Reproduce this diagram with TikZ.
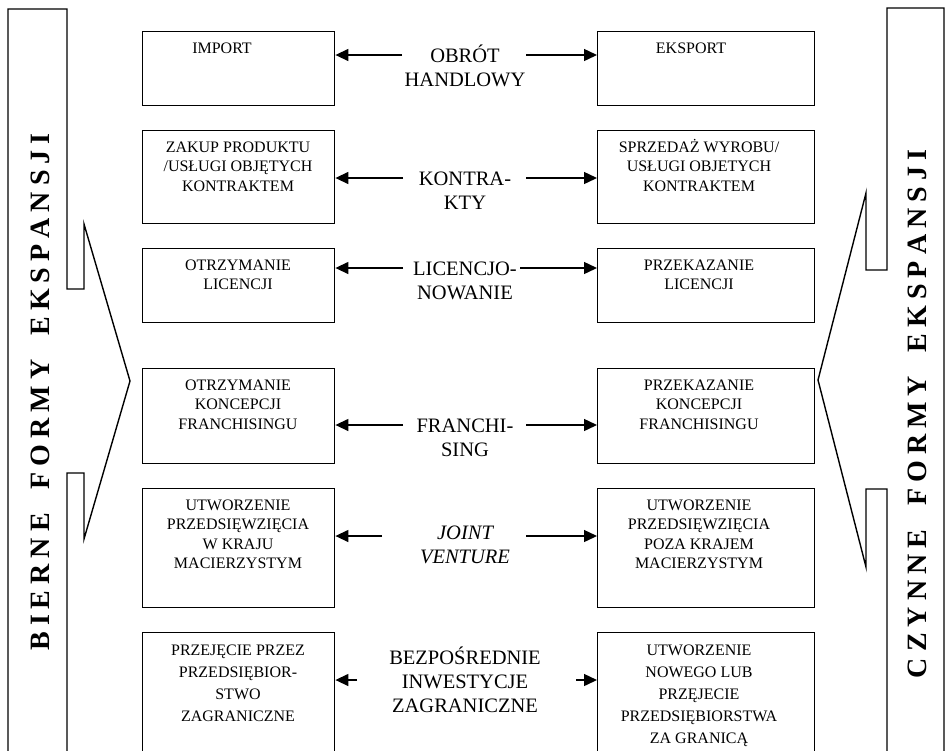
\documentclass[tikz,border=0pt]{standalone}
\usepackage{fontspec}
\setmainfont{Liberation Serif}
\newfontfamily\vfont{Liberation Serif Bold}
\usetikzlibrary{arrows.meta}
\newcommand\lsp{\kern 6pt}
\newcommand\wsp{\kern 24pt}
\begin{document}
\begin{tikzpicture}[x=1pt,y=-1pt,
  box/.style={draw, line width=1.4pt, anchor=north west, inner sep=0pt},
  lbox/.style={box, minimum width=192pt},
  rbox/.style={box, minimum width=217pt},
  btxt/.style={anchor=north, inner sep=0pt, align=center, font=\fontsize{16}{19.5}\selectfont},
  ctxt/.style={anchor=north, inner sep=0pt, align=center, font=\fontsize{20.5}{24}\selectfont},
  arr/.style={line width=1.4pt, -{Triangle[length=13pt,width=12pt]}},
  bar/.style={line width=1.4pt},
  vtxt/.style={rotate=90, inner sep=0pt, font=\vfont\fontsize{28}{32}\selectfont}
]
\useasboundingbox (0,0) rectangle (952,750);
\clip (0,0) rectangle (952,750);
% side arrows
\draw[bar] (8,800) -- (8,9) -- (67,9) -- (67,289) -- (84,289) -- (84,224) -- (130,381) -- (84,539) -- (84,473) -- (67,473) -- (67,800);
\draw[bar] (944,800) -- (944,8) -- (887,8) -- (887,270) -- (866,270) -- (866,193) -- (818,380) -- (866,567) -- (866,489) -- (887,489) -- (887,800);
\node[vtxt] (lt) at (40,392) {B\lsp I\lsp E\lsp R\lsp N\lsp E\wsp F\lsp O\lsp R\lsp M\lsp Y\wsp E\lsp K\lsp S\lsp P\lsp A\lsp N\lsp S\lsp J\lsp I};
\node[vtxt] (rt) at (917,414) {C\lsp Z\lsp Y\lsp N\lsp N\lsp E\wsp F\lsp O\lsp R\lsp M\lsp Y\wsp E\lsp K\lsp S\lsp P\lsp A\lsp N\lsp S\lsp J\lsp I};
% boxes
\node[lbox, minimum height=74pt] (l1) at (142,31) {};
\node[rbox, minimum height=74pt] (r1) at (597,31) {};
\node[lbox, minimum height=93pt] (l2) at (142,130) {};
\node[rbox, minimum height=93pt] (r2) at (597,130) {};
\node[lbox, minimum height=74pt] (l3) at (142,248) {};
\node[rbox, minimum height=74pt] (r3) at (597,248) {};
\node[lbox, minimum height=95pt] (l4) at (142,368) {};
\node[rbox, minimum height=95pt] (r4) at (597,368) {};
\node[lbox, minimum height=119pt] (l5) at (142,488) {};
\node[rbox, minimum height=119pt] (r5) at (597,488) {};
\node[lbox, minimum height=160pt] (l6) at (142,632) {};
\node[rbox, minimum height=160pt] (r6) at (597,632) {};
% box texts
\node[btxt] (tl1) at (222,39.6) {\strut IMPORT};
\node[btxt] (tr1) at (691,39.6) {\strut EKSPORT};
\node[btxt] (tl2) at (238,138.6) {\strut ZAKUP PRODUKTU\\/USŁUGI OBJĘTYCH\\KONTRAKTEM};
\node[btxt] (tr2) at (699,138.6) {\strut SPRZEDAŻ WYROBU/\\USŁUGI OBJETYCH\\KONTRAKTEM};
\node[btxt] (tl3) at (238,256.6) {\strut OTRZYMANIE\\LICENCJI};
\node[btxt] (tr3) at (699,256.6) {\strut PRZEKAZANIE\\LICENCJI};
\node[btxt] (tl4) at (238,376.6) {\strut OTRZYMANIE\\KONCEPCJI\\FRANCHISINGU};
\node[btxt] (tr4) at (699,376.6) {\strut PRZEKAZANIE\\KONCEPCJI\\FRANCHISINGU};
\node[btxt] (tl5) at (238,496.6) {\strut UTWORZENIE\\PRZEDSIĘWZIĘCIA\\W KRAJU\\MACIERZYSTYM};
\node[btxt] (tr5) at (699,496.6) {\strut UTWORZENIE\\PRZEDSIĘWZIĘCIA\\POZA KRAJEM\\MACIERZYSTYM};
\node[btxt, font=\fontsize{16}{22}\selectfont] (tl6) at (238,640) {\strut PRZEJĘCIE PRZEZ\\PRZEDSIĘBIOR-\\STWO\\ZAGRANICZNE};
\node[btxt, font=\fontsize{16}{22}\selectfont] (tr6) at (699,640) {\strut UTWORZENIE\\NOWEGO LUB\\PRZĘJECIE\\PRZEDSIĘBIORSTWA\\ZA GRANICĄ};
% centre labels
\node[ctxt] (c1) at (465,45) {\strut OBRÓT\\HANDLOWY};
\node[ctxt] (c2) at (465,168) {\strut KONTRA-\\KTY};
\node[ctxt] (c3) at (465,258) {\strut LICENCJO-\\NOWANIE};
\node[ctxt] (c4) at (465,415) {\strut FRANCHI-\\SING};
\node[ctxt, font=\fontsize{20.5}{24}\selectfont\itshape] (c5) at (465,522) {\strut JOINT\\VENTURE};
\node[ctxt] (c6) at (465,647) {\strut BEZPOŚREDNIE\\INWESTYCJE\\ZAGRANICZNE};
% arrows
\coordinate (a1l) at (402,55); \coordinate (a1r) at (526,55);
\coordinate (a2l) at (403,178); \coordinate (a2r) at (526,178);
\coordinate (a3l) at (403,268); \coordinate (a3r) at (520,268);
\coordinate (a4l) at (403,425); \coordinate (a4r) at (526,425);
\coordinate (a5l) at (382,536); \coordinate (a5r) at (526,536);
\coordinate (a6l) at (357,680); \coordinate (a6r) at (576,680);
\foreach \i in {1,...,6}{
  \draw[arr] (a\i l) -- (l\i.east |- a\i l);
  \draw[arr] (a\i r) -- (r\i.west |- a\i r);
}
\end{tikzpicture}
\end{document}
